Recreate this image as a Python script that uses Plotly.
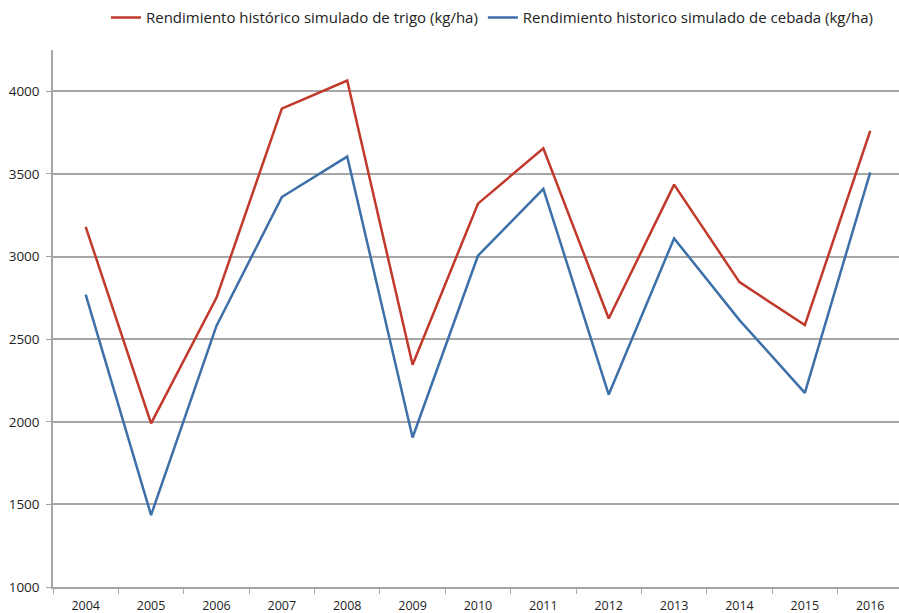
import plotly.graph_objects as go

years = ["2004", "2005", "2006", "2007", "2008", "2009", "2010",
         "2011", "2012", "2013", "2014", "2015", "2016"]
trigo = [3180, 1990, 2750, 3895, 4065, 2345, 3320, 3655, 2625, 3435, 2845, 2585, 3760]
cebada = [2770, 1435, 2580, 3360, 3605, 1905, 3005, 3410, 2165, 3110, 2615, 2175, 3510]
name_trigo = "Rendimiento histórico simulado de trigo (kg/ha)"
name_cebada = "Rendimiento historico simulado de cebada (kg/ha)"
y_ticks = [1000, 1500, 2000, 2500, 3000, 3500, 4000]

fig = go.Figure()
fig.add_trace(go.Scatter(x=years, y=trigo, mode="lines", name=name_trigo,
                         line=dict(color="#c0392b", width=2.5)))
fig.add_trace(go.Scatter(x=years, y=cebada, mode="lines", name=name_cebada,
                         line=dict(color="#3d6fa8", width=2.5)))

font_family = "'Open Sans', Lato, sans-serif"
fig.update_layout(
    width=899, height=613,
    margin=dict(l=53, r=0, t=50, b=26),
    paper_bgcolor="white", plot_bgcolor="white",
    font=dict(family=font_family, size=12, color="#2a2a2a"),
    showlegend=True,
    legend=dict(orientation="h", x=0.0626, xanchor="left", y=1.06, yanchor="middle",
                font=dict(size=15, color="#222"), itemwidth=30,
                bgcolor="rgba(0,0,0,0)", tracegroupgap=0),
    xaxis=dict(type="category", range=[-0.5, 12.44], tickson="boundaries",
               ticks="outside", ticklen=5, tickcolor="#a6a6a6",
               showline=True, linecolor="#a6a6a6", linewidth=1.5,
               showgrid=False, ticklabelstandoff=6,
               tickfont=dict(size=12.5, color="#1e1e1e")),
    yaxis=dict(range=[1000, 4250], tickvals=y_ticks,
               ticks="outside", ticklen=5, tickcolor="#a6a6a6",
               showline=True, linecolor="#a6a6a6", linewidth=1.5,
               showgrid=True, gridcolor="#a6a6a6", gridwidth=1.5,
               zeroline=False, ticklabelstandoff=4,
               tickfont=dict(size=13.5, color="#1e1e1e")),
)

fig.write_html("out.html", config={"displayModeBar": False},
               post_script="document.body.style.margin='0px';")
